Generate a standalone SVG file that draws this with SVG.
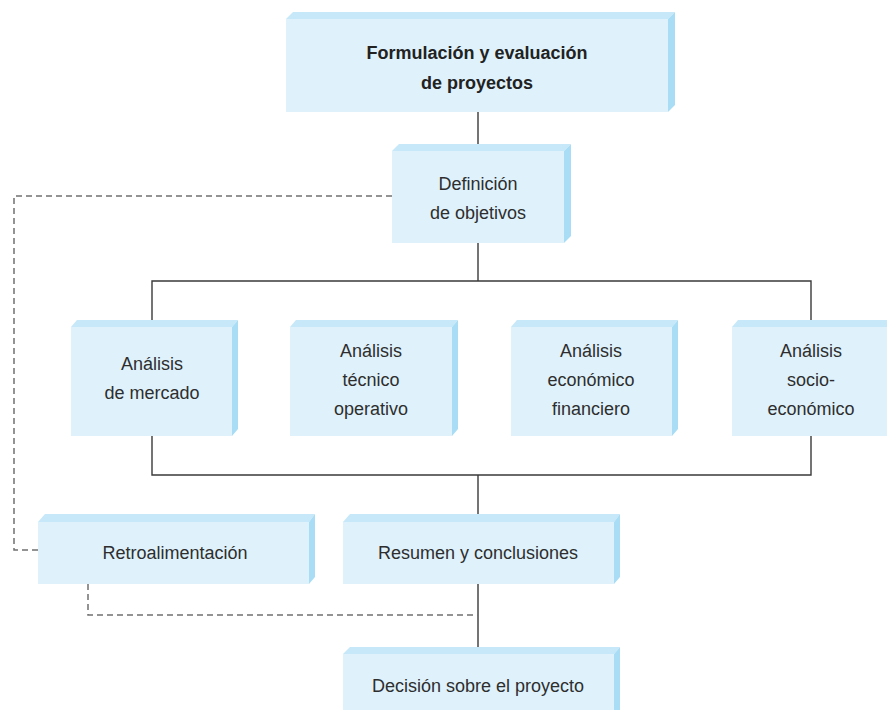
<svg xmlns="http://www.w3.org/2000/svg" width="887" height="710" viewBox="0 0 887 710">
<defs>
<style>
.face{fill:#dff2fc}
.top{fill:#c6e8f8}
.side{fill:#a9ddf6}
text{font-family:"Liberation Sans",Arial,sans-serif;font-size:18px;fill:#2e2e2e;text-anchor:middle}
.b{font-weight:bold;fill:#222}
.solid{fill:none;stroke:#3a3a3a;stroke-width:1.4}
.dash{fill:none;stroke:#707070;stroke-width:1.5;stroke-dasharray:6 4}
</style>
</defs>
<rect width="887" height="710" fill="#ffffff"/>
<g id="connectors">
<path class="solid" d="M478 112V151M478 243V281M152 320V281H811V320M152 436V475H811V436M478 475V514M478 584V647"/>
<path class="dash" d="M392 196H14V550H38M88 584V615H478"/>
</g>
<g id="n-formulacion">
<polygon class="top" points="286,19 293,12 675,12 668,19"/>
<polygon class="side" points="668,19 675,12 675,105 668,112"/>
<rect class="face" x="286" y="19" width="382" height="93"/>
<text class="b" x="477" y="59">Formulación y evaluación</text>
<text class="b" x="477" y="89">de proyectos</text>
</g>
<g id="n-definicion">
<polygon class="top" points="392,151 399,144 571,144 564,151"/>
<polygon class="side" points="564,151 571,144 571,236 564,243"/>
<rect class="face" x="392" y="151" width="172" height="92"/>
<text x="478" y="190">Definición</text>
<text x="478" y="219">de objetivos</text>
</g>
<g id="n-mercado">
<polygon class="top" points="71,327 77,320 238,320 232,327"/>
<polygon class="side" points="232,327 238,320 238,429 232,436"/>
<rect class="face" x="71" y="327" width="161" height="109"/>
<text x="152" y="370">Análisis</text>
<text x="152" y="399">de mercado</text>
</g>
<g id="n-tecnico">
<polygon class="top" points="290,327 296,320 458,320 452,327"/>
<polygon class="side" points="452,327 458,320 458,429 452,436"/>
<rect class="face" x="290" y="327" width="162" height="109"/>
<text x="371" y="357">Análisis</text>
<text x="371" y="386">técnico</text>
<text x="371" y="415">operativo</text>
</g>
<g id="n-economico">
<polygon class="top" points="511,327 517,320 678,320 672,327"/>
<polygon class="side" points="672,327 678,320 678,429 672,436"/>
<rect class="face" x="511" y="327" width="161" height="109"/>
<text x="591" y="357">Análisis</text>
<text x="591" y="386">económico</text>
<text x="591" y="415">financiero</text>
</g>
<g id="n-socio">
<polygon class="top" points="732,327 738,320 897,320 891,327"/>
<rect class="face" x="732" y="327" width="159" height="109"/>
<text x="811" y="357">Análisis</text>
<text x="811" y="386">socio-</text>
<text x="811" y="415">económico</text>
</g>
<g id="n-retro">
<polygon class="top" points="38,522 45,514 315,514 309,522"/>
<polygon class="side" points="309,522 315,514 315,577 309,584"/>
<rect class="face" x="38" y="522" width="271" height="62"/>
<text x="175" y="559">Retroalimentación</text>
</g>
<g id="n-resumen">
<polygon class="top" points="343,522 350,514 620,514 614,522"/>
<polygon class="side" points="614,522 620,514 620,577 614,584"/>
<rect class="face" x="343" y="522" width="271" height="62"/>
<text x="478" y="559">Resumen y conclusiones</text>
</g>
<g id="n-decision">
<polygon class="top" points="343,654 350,647 620,647 614,654"/>
<polygon class="side" points="614,654 620,647 620,710 614,710"/>
<rect class="face" x="343" y="654" width="271" height="56"/>
<text x="478" y="692">Decisión sobre el proyecto</text>
</g>
</svg>
